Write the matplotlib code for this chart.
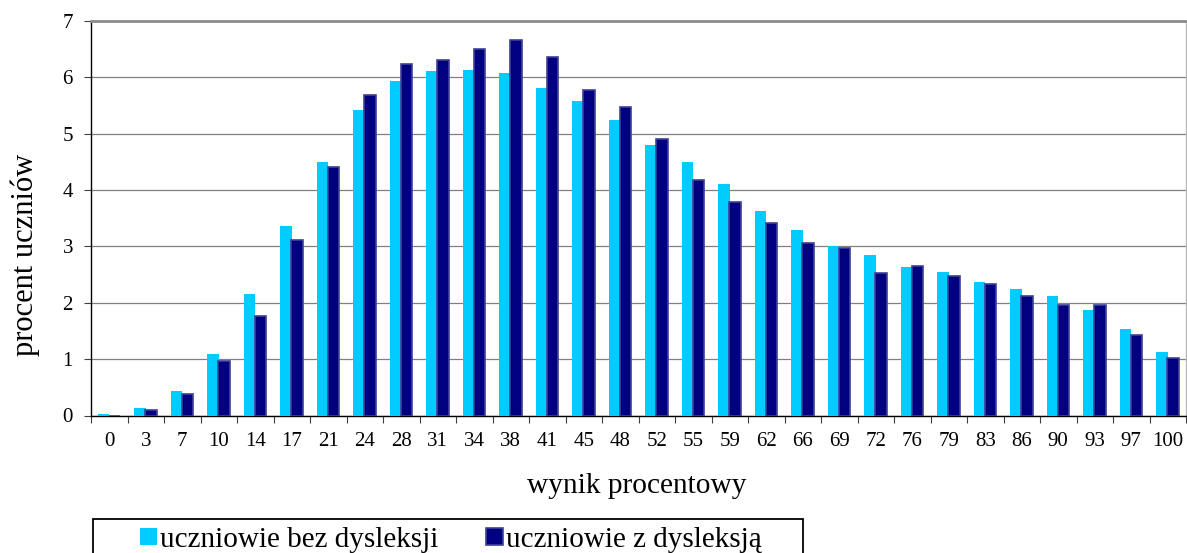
import matplotlib
matplotlib.use("Agg")
import matplotlib.pyplot as plt
import numpy as np
from matplotlib.ticker import FixedLocator, NullFormatter
from matplotlib.patches import Rectangle

plt.rcParams['font.family'] = ['Liberation Serif', 'DejaVu Serif']

categories = ["0", "3", "7", "10", "14", "17", "21", "24", "28", "31", "34", "38", "41", "45",
              "48", "52", "55", "59", "62", "66", "69", "72", "76", "79", "83", "86", "90", "93",
              "97", "100"]
bez_dysleksji = [0.03, 0.13, 0.43, 1.09, 2.16, 3.36, 4.50, 5.42, 5.94, 6.12, 6.13, 6.08, 5.82, 5.58,
                 5.25, 4.80, 4.50, 4.11, 3.62, 3.30, 3.01, 2.84, 2.64, 2.54, 2.37, 2.24, 2.12, 1.87,
                 1.53, 1.13]
z_dysleksja = [0.0, 0.09, 0.38, 0.96, 1.77, 3.11, 4.41, 5.68, 6.23, 6.31, 6.50, 6.66, 6.37, 5.77,
               5.47, 4.90, 4.18, 3.79, 3.42, 3.06, 2.98, 2.53, 2.66, 2.47, 2.33, 2.12, 1.96, 1.96,
               1.42, 1.02]
series_names = ["uczniowie bez dysleksji", "uczniowie z dysleksją"]

W, H = 1187, 553
fig = plt.figure(figsize=(W / 100, H / 100), dpi=100)
ax = fig.add_axes([91 / W, 1 - 415.5 / H, (1186 - 91) / W, (415.5 - 21) / H])

x = np.arange(len(categories))
ax.bar(x - 0.155, bez_dysleksji, width=0.32, color='#00CCFF', linewidth=0,
       label=series_names[0], zorder=3)
ax.bar(x + 0.145, z_dysleksja, width=0.31, color='#000080', edgecolor='#40409a',
       linewidth=1.2, label=series_names[1], zorder=4)

ax.set_xlim(-0.5, len(categories) - 0.5)
ax.set_ylim(0, 7)
ax.set_yticks(range(0, 8))
ax.yaxis.grid(True, color='#808080', linewidth=0.9, zorder=1)
ax.set_axisbelow(True)

ax.xaxis.set_major_locator(FixedLocator(np.arange(-0.5, len(categories), 1.0)))
ax.xaxis.set_major_formatter(NullFormatter())
ax.xaxis.set_minor_locator(FixedLocator(x))
ax.set_xticklabels(categories, minor=True)
ax.tick_params(axis='x', which='major', direction='out', length=5, width=0.8, color='#404040')
ax.tick_params(axis='x', which='minor', length=0, pad=12, labelsize=15)
ax.tick_params(axis='y', direction='out', length=5, width=0.8, color='#404040', labelsize=15, pad=8)

for s in ['left', 'bottom']:
    ax.spines[s].set_color('black')
    ax.spines[s].set_linewidth(1.0)
ax.spines['top'].set_color('#8c8c8c')
ax.spines['top'].set_linewidth(2.0)
ax.spines['right'].set_color('#b8b8b8')
ax.spines['right'].set_linewidth(1.0)

fig.text(25 / W, 1 - 255 / H, "procent uczniów", rotation=90, ha='center', va='center', fontsize=22)
fig.text(637 / W, 1 - 486 / H, "wynik procentowy", ha='center', va='center', fontsize=21.2)

# legend frame (extends past the bottom edge of the figure)
fig.patches.append(Rectangle((93 / W, -0.05), (803 - 93) / W, (1 - 519 / H) + 0.05,
                             transform=fig.transFigure, fill=False, edgecolor='black',
                             linewidth=1.3))
fs = 21
leg = fig.legend(loc='center left', ncol=2,
                 bbox_to_anchor=(140 / W, 1 - 540 / H),
                 frameon=False, fontsize=fs,
                 handlelength=0.58, handleheight=0.55, handletextpad=0.12,
                 borderaxespad=0, borderpad=0, columnspacing=1.62)

fig.savefig("out.png", dpi=100)
